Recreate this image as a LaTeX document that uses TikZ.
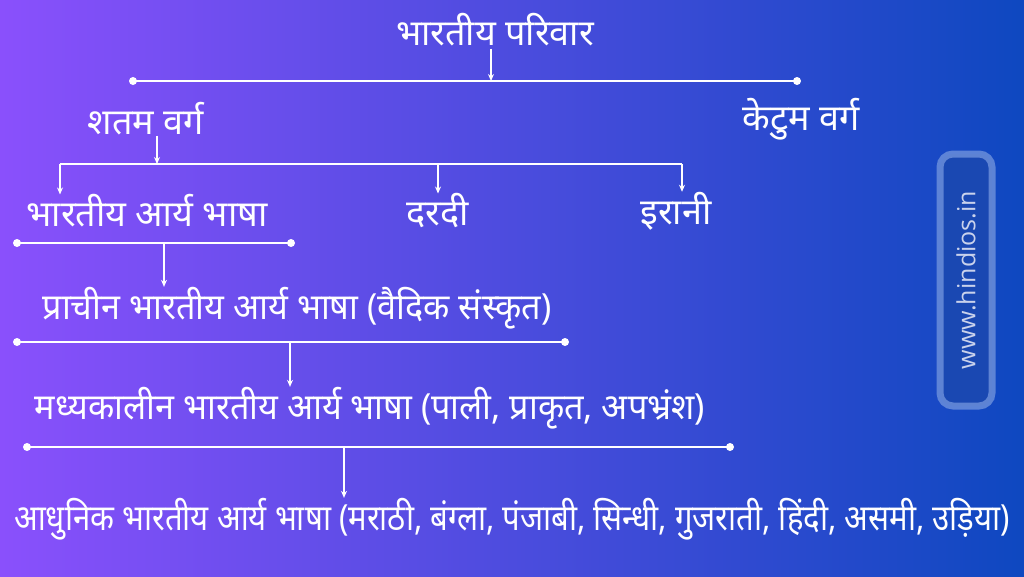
\documentclass[tikz,border=0pt]{standalone}
\usepackage{fontspec}
\newfontfamily\hindi[Script=Devanagari]{Noto Sans}
\newfontfamily\hindinarrow[Script=Devanagari,FakeStretch=0.95]{Noto Sans}
\newfontfamily\hinditight[Script=Devanagari,FakeStretch=0.865]{Noto Sans}
\newfontfamily\webfont{Open Sans}
\usetikzlibrary{arrows.meta}
\definecolor{bgleft}{HTML}{8A50FC}
\definecolor{bgright}{HTML}{0E48C0}
\definecolor{frameblue}{HTML}{6F92DC}
\definecolor{innerblue}{HTML}{1A48B2}
\definecolor{webgray}{HTML}{C9D2EC}

\begin{document}
\begin{tikzpicture}[x=1pt,y=-1pt,
  lbl/.style={text=white,font=\hindi\fontsize{36}{40}\selectfont,inner sep=0pt},
  bar/.style={white,line width=2pt},
  down/.style={white,line width=1.3pt,-{Stealth[length=7pt,width=6pt]}}]
  \shade[left color=bgleft,right color=bgright] (0,0) rectangle (1024,576);
  \useasboundingbox (0,0) rectangle (1024,576);

  % family
  \node[lbl] (fam) at (495,30) {भारतीय परिवार};
  \coordinate (famL) at (133,81);
  \coordinate (famR) at (797,81);
  \coordinate (famA) at (491,81);
  \draw[bar] (famL) -- (famR);
  \draw[down] ([yshift=-2pt]fam.south -| famA) -- (famA);

  \node[lbl] (shatam) at (146,119) {शतम वर्ग};
  \node[lbl] (kentum) at (801,119) {केटुम वर्ग};

  % shatam branches
  \node[lbl] (bharat) at (147,211) {भारतीय आर्य भाषा};
  \node[lbl] (dardi) at (438,211) {दरदी};
  \node[lbl] (irani) at (676,211) {इरानी};
  \coordinate (brA) at (157,164);
  \coordinate (brL) at (60,164);
  \coordinate (brM) at (438,164);
  \coordinate (brR) at (682,164);
  \draw[bar,line width=1.5pt] (brL) -- (brR);
  \draw[down] (shatam.south -| brA) -- (brA);
  \draw[down] (brL) -- (brL |- bharat.north);
  \draw[down] (brM) -- (brM |- dardi.north);
  \draw[down] (brR) -- (brR |- irani.north);

  % old
  \coordinate (oldL) at (17,243);
  \coordinate (oldR) at (291,243);
  \coordinate (oldA) at (164,243);
  \draw[bar] (oldL) -- (oldR);
  \node[lbl,font=\hindinarrow\fontsize{36}{40}\selectfont] (prachin) at (297,308) {प्राचीन भारतीय आर्य भाषा (वैदिक संस्कृत)};
  \draw[down] (oldA) -- (oldA |- prachin.north);

  % middle
  \coordinate (midL) at (17,342);
  \coordinate (midR) at (565,342);
  \coordinate (midA) at (290,342);
  \draw[bar] (midL) -- (midR);
  \node[lbl,font=\hindinarrow\fontsize{36}{40}\selectfont] (madhya) at (370,408) {मध्यकालीन भारतीय आर्य भाषा (पाली, प्राकृत, अपभ्रंश)};
  \draw[down] (midA) -- (midA |- madhya.north);

  % modern
  \coordinate (newL) at (27,447);
  \coordinate (newR) at (730,447);
  \coordinate (newA) at (344,447);
  \draw[bar] (newL) -- (newR);
  \node[lbl,font=\hinditight\fontsize{36}{40}\selectfont] (adhunik) at (512,519) {आधुनिक भारतीय आर्य भाषा (मराठी, बंग्ला, पंजाबी, सिन्धी, गुजराती, हिंदी, असमी, उड़िया)};
  \draw[down] (newA) -- (newA |- adhunik.north);

  \foreach \p in {famL,famR,oldL,oldR,midL,midR,newL,newR}
    \fill[white] (\p) circle (4);

  % watermark
  \node[rotate=90,draw=frameblue,draw opacity=0.8,line width=7pt,fill=innerblue,
        rounded corners=13pt,minimum width=252pt,minimum height=52pt,
        text=webgray,font=\webfont\fontsize{25}{30}\selectfont] (web) at (966,280) {www.hindios.in};
\end{tikzpicture}
\end{document}
